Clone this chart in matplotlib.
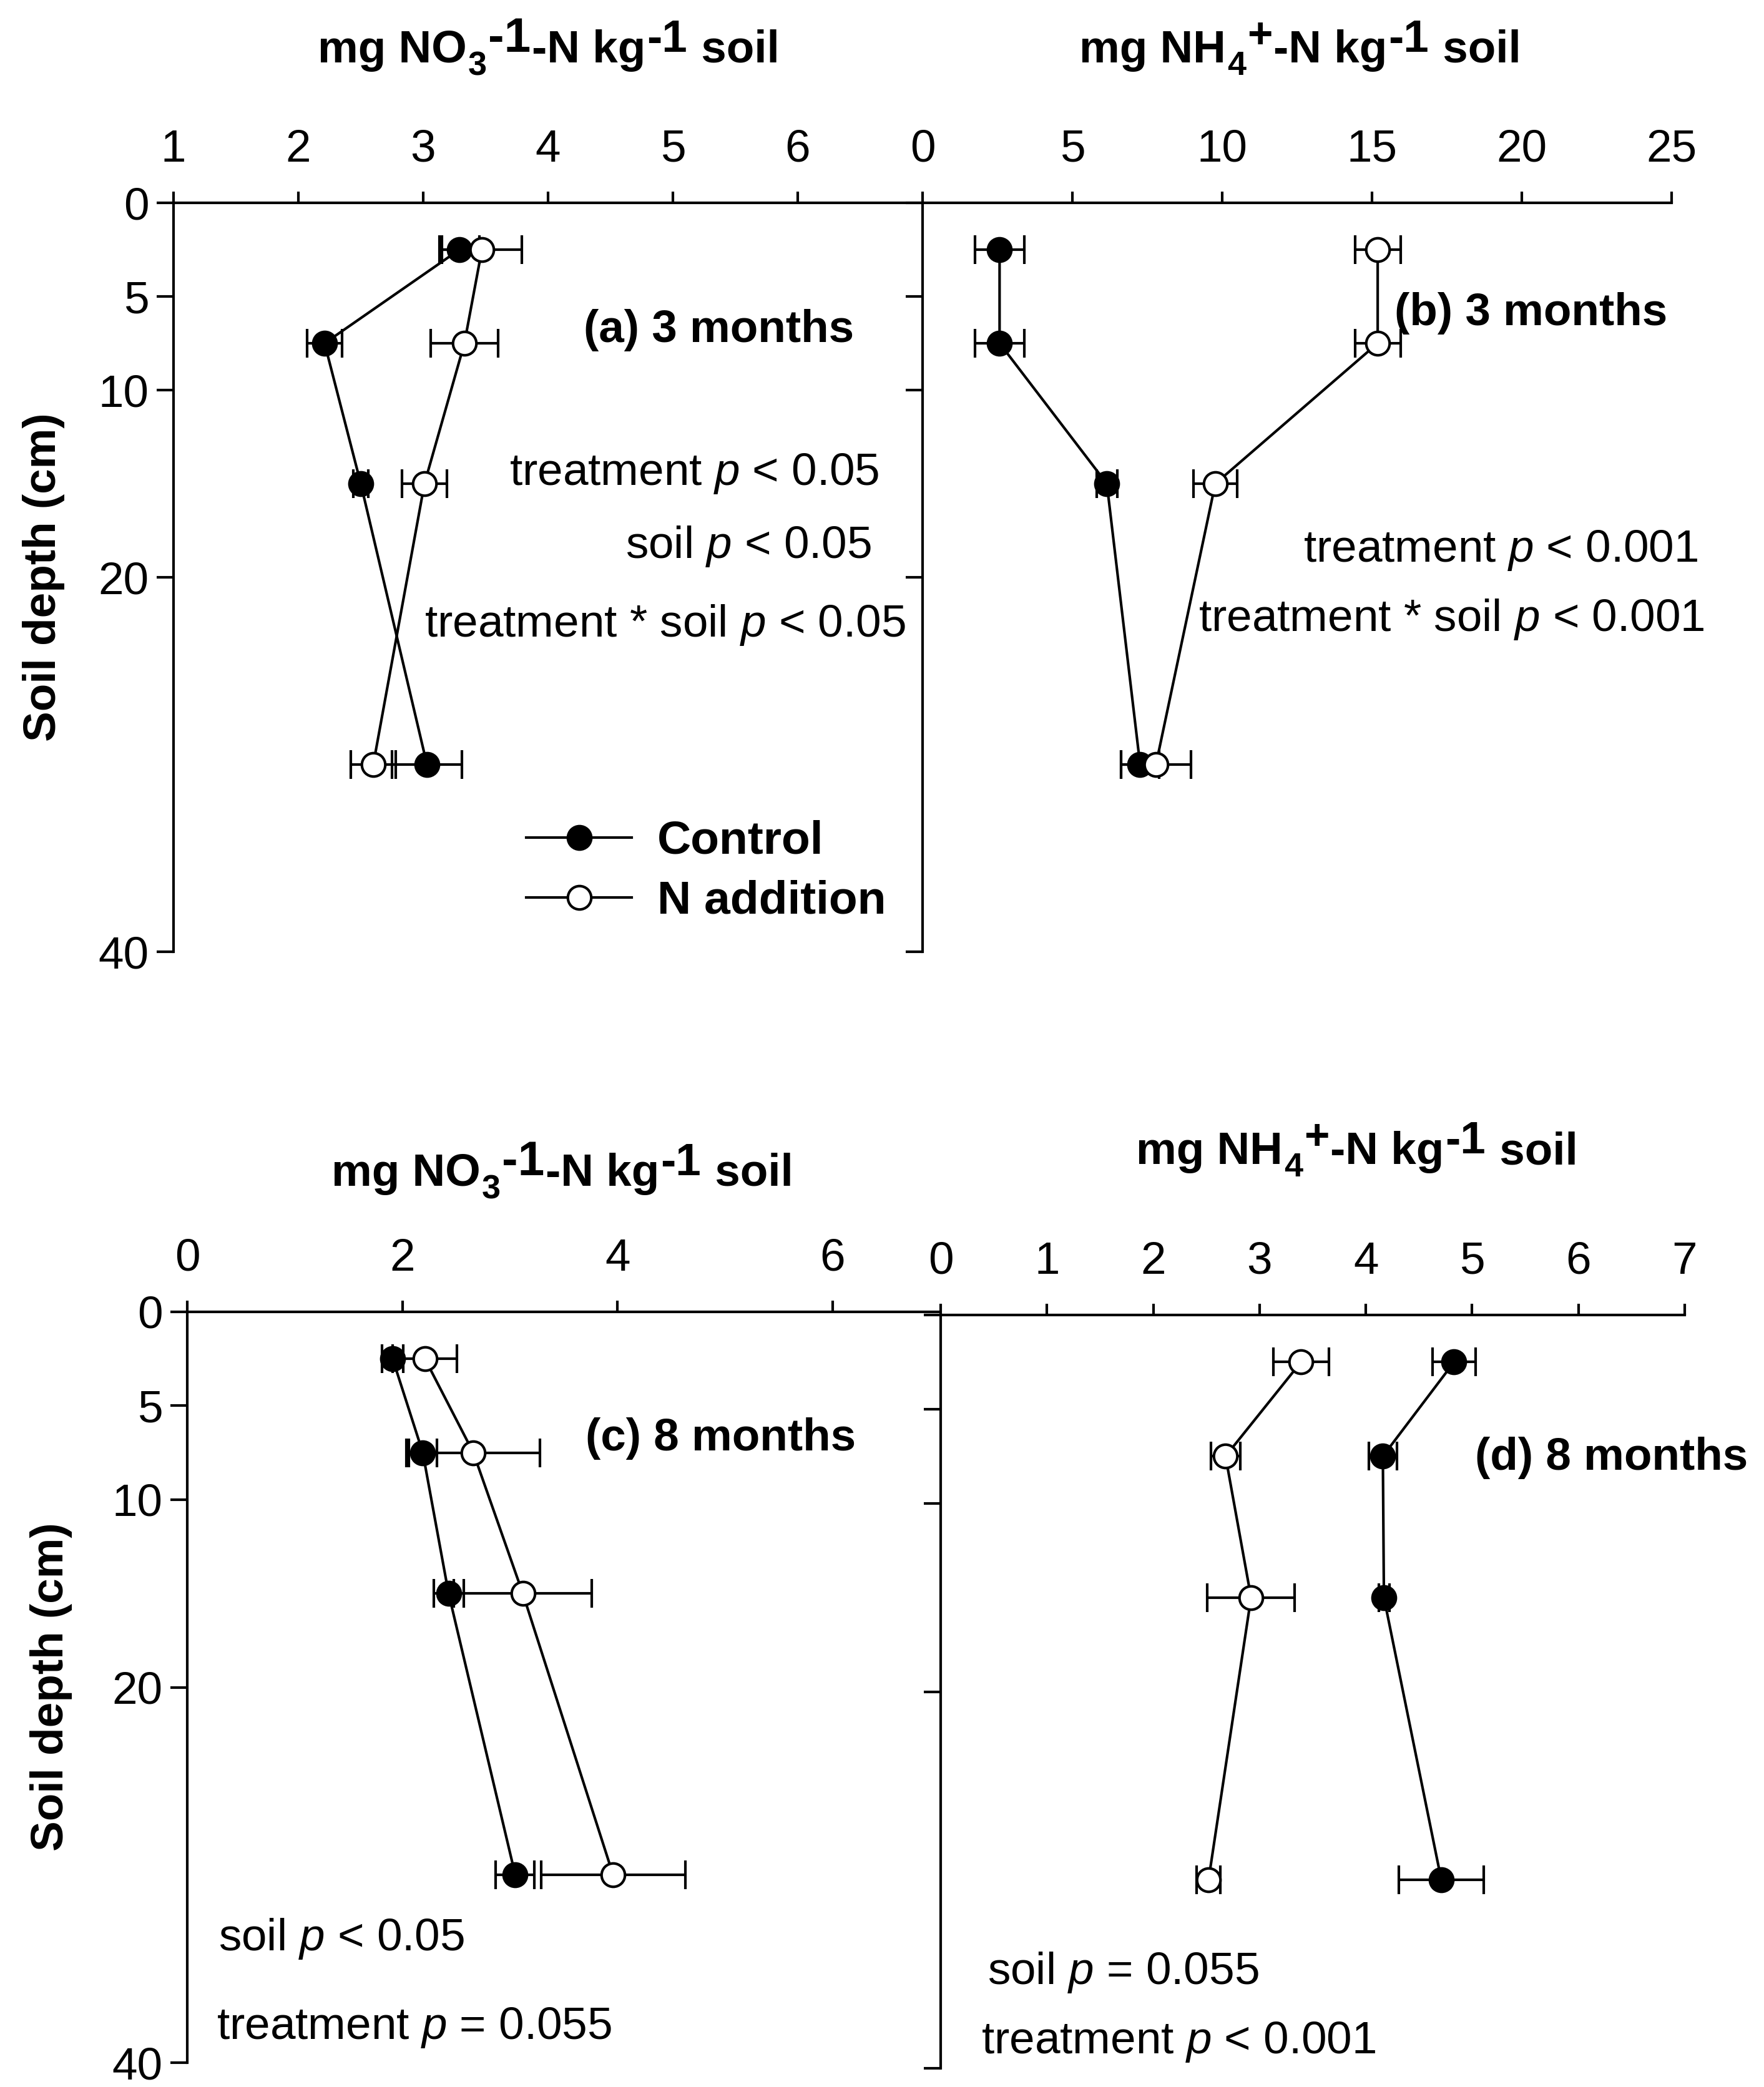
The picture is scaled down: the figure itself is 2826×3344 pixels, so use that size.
import matplotlib
matplotlib.use("Agg")
from matplotlib import pyplot as plt

plt.rcParams['font.family'] = ['Liberation Sans', 'DejaVu Sans']
plt.rcParams['mathtext.fontset'] = 'custom'
plt.rcParams['mathtext.rm'] = 'Liberation Sans'
plt.rcParams['mathtext.it'] = 'Liberation Sans:italic'
plt.rcParams['mathtext.bf'] = 'Liberation Sans:bold'
plt.rcParams['mathtext.default'] = 'it'

FS = 17.5

# soil depths (cm)
depth = [2.5, 7.5, 15, 30]

# (a) NO3 at 3 months
a_ctrl = [3.29, 2.21, 2.50, 3.03]
a_ctrl_se = [0.16, 0.14, 0.06, 0.28]
a_nadd = [3.47, 3.33, 3.01, 2.60]
a_nadd_se = [0.32, 0.27, 0.18, 0.18]

# (b) NH4 at 3 months
b_ctrl = [2.57, 2.57, 6.15, 7.26]
b_ctrl_se = [0.82, 0.82, 0.34, 0.64]
b_nadd = [15.19, 15.19, 9.77, 7.79]
b_nadd_se = [0.76, 0.76, 0.73, 1.17]

# (c) NO3 at 8 months
c_ctrl = [1.91, 2.19, 2.43, 3.05]
c_ctrl_se = [0.10, 0.13, 0.14, 0.18]
c_nadd = [2.21, 2.66, 3.12, 3.96]
c_nadd_se = [0.30, 0.62, 0.64, 0.67]

# (d) NH4 at 8 months
d_ctrl = [4.83, 4.16, 4.17, 4.71]
d_ctrl_se = [0.20, 0.13, 0.05, 0.40]
d_nadd = [3.39, 2.68, 2.92, 2.52]
d_nadd_se = [0.26, 0.14, 0.41, 0.11]

depth_ticks = [0, 5, 10, 20, 40]

W, H = 2826, 3344
fig = plt.figure(figsize=(W / 300, H / 300), dpi=300)


def box(left, top, w, h):
    return [left / W, 1 - (top + h) / H, w / W, h / H]


def setup(ax, xlim, xticks, ylabels=True):
    ax.set_xlim(*xlim)
    ax.set_ylim(40, 0)
    ax.xaxis.tick_top()
    ax.set_xticks(xticks)
    ax.set_yticks(depth_ticks)
    for s in ['right', 'bottom']:
        ax.spines[s].set_visible(False)
    for s in ['left', 'top']:
        ax.spines[s].set_linewidth(1.0)
    ax.tick_params(axis='x', direction='out', length=4.3, width=1.0, pad=8, labelsize=FS)
    ax.tick_params(axis='y', direction='out', length=6.5, width=1.0, pad=3, labelsize=FS)
    if not ylabels:
        ax.set_yticklabels([])
    ax.patch.set_visible(False)


def draw(ax, ctrl, ctrl_se, nadd, nadd_se):
    ax.errorbar(ctrl, depth, xerr=ctrl_se, fmt='none', ecolor='black',
                elinewidth=1.0, capsize=5.5, capthick=1.0, zorder=2)
    l1, = ax.plot(ctrl, depth, '-o', color='black', lw=1.0, ms=9,
                  mfc='black', mec='black', zorder=3, label='Control')
    ax.errorbar(nadd, depth, xerr=nadd_se, fmt='none', ecolor='black',
                elinewidth=1.0, capsize=5.5, capthick=1.0, zorder=4)
    l2, = ax.plot(nadd, depth, '-o', color='black', lw=1.0, ms=9,
                  mfc='white', mec='black', mew=1.0, zorder=5, label='N addition')
    return l1, l2


def rich_title(xc, yb, pieces):
    # pieces of (text, size scale, baseline shift in em), laid out left to right
    renderer = fig.canvas.get_renderer()
    texts = []
    widths = []
    for s, scale, dy in pieces:
        t = fig.text(0, 0, s, fontsize=FS * scale, fontweight='bold',
                     ha='left', va='baseline')
        widths.append(t.get_window_extent(renderer).width + 2)
        texts.append((t, dy))
    x = xc - sum(widths) / 2
    em = FS * 300 / 72
    for (t, dy), w in zip(texts, widths):
        t.set_position((x / W, (H - yb + dy * em) / H))
        x += w


ax_a = fig.add_axes(box(278, 325, 1200, 1200))
ax_b = fig.add_axes(box(1478, 325, 1200, 1200))
ax_c = fig.add_axes(box(300, 2102, 1206, 1203))
ax_d = fig.add_axes(box(1507, 2107, 1192, 1207))

setup(ax_a, (1, 7), [1, 2, 3, 4, 5, 6])
setup(ax_b, (0, 25), [0, 5, 10, 15, 20, 25], ylabels=False)
setup(ax_c, (0, 7), [0, 2, 4, 6])
setup(ax_d, (0, 7), [0, 1, 2, 3, 4, 5, 6, 7], ylabels=False)

h1, h2 = draw(ax_a, a_ctrl, a_ctrl_se, a_nadd, a_nadd_se)
draw(ax_b, b_ctrl, b_ctrl_se, b_nadd, b_nadd_se)
draw(ax_c, c_ctrl, c_ctrl_se, c_nadd, c_nadd_se)
draw(ax_d, d_ctrl, d_ctrl_se, d_nadd, d_nadd_se)

ax_a.legend(handles=[h1, h2], loc='upper left', bbox_to_anchor=(0.471, 0.176),
            frameon=False, borderpad=0, borderaxespad=0, handlelength=2.25,
            handletextpad=0.55, labelspacing=0.36,
            prop={'size': 18, 'weight': 'bold'})

# panel labels
ax_a.text(5.37, 6.8, '(a) 3 months', ha='center', va='center', fontsize=FS, fontweight='bold')
ax_b.text(20.3, 5.9, '(b) 3 months', ha='center', va='center', fontsize=FS, fontweight='bold')
ax_c.text(4.96, 6.75, '(c) 8 months', ha='center', va='center', fontsize=FS, fontweight='bold')
ax_d.text(6.31, 7.6, '(d) 8 months', ha='center', va='center', fontsize=FS, fontweight='bold')

# statistics
ax_a.text(3.69, 14.45, 'treatment $p$ < 0.05', ha='left', va='center', fontsize=FS)
ax_a.text(4.62, 18.35, 'soil $p$ < 0.05', ha='left', va='center', fontsize=FS)
ax_a.text(3.01, 22.55, 'treatment * soil $p$ < 0.05', ha='left', va='center', fontsize=FS)

ax_b.text(12.7, 18.55, 'treatment $p$ < 0.001', ha='left', va='center', fontsize=FS)
ax_b.text(9.2, 22.25, 'treatment * soil $p$ < 0.001', ha='left', va='center', fontsize=FS)

ax_c.text(0.29, 33.4, 'soil $p$ < 0.05', ha='left', va='center', fontsize=FS)
ax_c.text(0.27, 38.15, 'treatment $p$ = 0.055', ha='left', va='center', fontsize=FS)

ax_d.text(0.44, 34.9, 'soil $p$ = 0.055', ha='left', va='center', fontsize=FS)
ax_d.text(0.38, 38.6, 'treatment $p$ < 0.001', ha='left', va='center', fontsize=FS)

# axis titles
no3 = [('mg NO', 1, 0), ('3', 0.74, -0.275), ('-1', 1.05, 0.235),
       ('-N kg', 1, 0), ('-1', 1.0, 0.235), (' soil', 1, 0)]
nh4 = [('mg NH', 1, 0), ('4', 0.74, -0.275), ('+', 0.95, 0.33),
       ('-N kg', 1, 0), ('-1', 1.0, 0.235), (' soil', 1, 0)]
rich_title(880, 100, no3)
rich_title(2084, 100, nh4)
rich_title(902, 1900, no3)
rich_title(2175, 1865, nh4)

fig.text(70 / W, 1 - 925 / H, 'Soil depth (cm)', rotation=90, ha='center', va='center',
         fontsize=FS, fontweight='bold')
fig.text(82 / W, 1 - 2703 / H, 'Soil depth (cm)', rotation=90, ha='center', va='center',
         fontsize=FS, fontweight='bold')

fig.savefig('out.png', dpi=300)
